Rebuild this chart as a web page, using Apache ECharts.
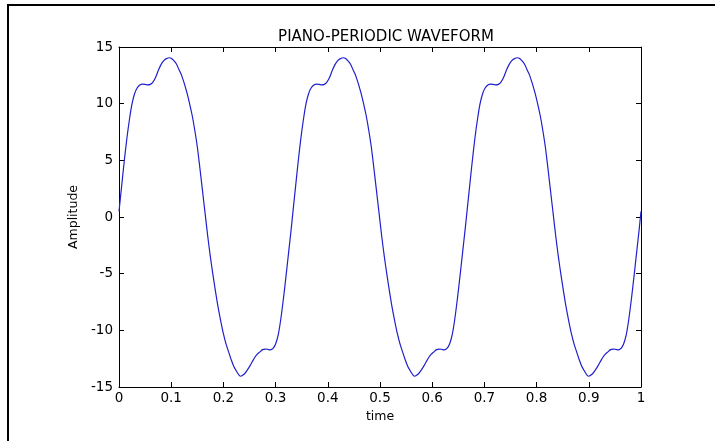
<!DOCTYPE html>
<html>
<head>
<meta charset="utf-8">
<script src="https://cdn.jsdelivr.net/npm/echarts@6/dist/echarts.min.js"></script>
<style>html,body{margin:0;padding:0;background:#fff;}#c{width:715px;height:441px;}</style>
</head>
<body>
<div id="c"></div>
<script>
const chartTitle = 'PIANO-PERIODIC WAVEFORM';
const xName = 'time';
const yName = 'Amplitude';
const xTickLabels = ['0','0.1','0.2','0.3','0.4','0.5','0.6','0.7','0.8','0.9','1'];
const yTickLabels = ['-15','-10','-5','0','5','10','15'];

const timeP1 = [0,0.005,0.01,0.015,0.02,0.025,0.03,0.035,0.04,0.045,0.05,0.055,0.06,0.065,0.07,0.075,0.08,0.085,0.09,0.097,0.1,0.105,0.11,0.115,0.12,0.13,0.14,0.145,0.15,0.155,0.16,0.165,0.17,0.175,0.18,0.185,0.19,0.195,0.2,0.205,0.21,0.215,0.22,0.225,0.23,0.233,0.24,0.245,0.25,0.255,0.26,0.265,0.27,0.275,0.28,0.285,0.29,0.295,0.3,0.305,0.31,0.315,0.32,0.325,0.33];
const ampP1 = [0.5,2.7,4.9,6.9,8.6,10.0,10.9,11.4,11.65,11.72,11.7,11.65,11.7,11.9,12.3,12.9,13.4,13.75,13.95,14.05,14.0,13.8,13.5,13.0,12.5,11.0,9.0,7.7,6.2,4.3,2.3,0.3,-1.7,-3.5,-5.1,-6.6,-8.0,-9.2,-10.3,-11.2,-11.9,-12.6,-13.2,-13.6,-13.95,-14.05,-13.85,-13.55,-13.2,-12.8,-12.4,-12.1,-11.9,-11.7,-11.65,-11.68,-11.72,-11.6,-11.2,-10.4,-9.0,-7.2,-5.2,-3.1,-1.0];

const timeP2 = [0.3333,0.3383,0.3433,0.3483,0.3533,0.3583,0.3633,0.3683,0.3733,0.3783,0.3833,0.3883,0.3933,0.3983,0.4033,0.4083,0.4133,0.4183,0.4233,0.4303,0.4333,0.4383,0.4433,0.4483,0.4533,0.4633,0.4733,0.4783,0.4833,0.4883,0.4933,0.4983,0.5033,0.5083,0.5133,0.5183,0.5233,0.5283,0.5333,0.5383,0.5433,0.5483,0.5533,0.5583,0.5633,0.5663,0.5733,0.5783,0.5833,0.5883,0.5933,0.5983,0.6033,0.6083,0.6133,0.6183,0.6233,0.6283,0.6333,0.6383,0.6433,0.6483,0.6533,0.6583,0.6633];
const ampP2 = [0.5,2.7,4.9,6.9,8.6,10.0,10.9,11.4,11.65,11.72,11.7,11.65,11.7,11.9,12.3,12.9,13.4,13.75,13.95,14.05,14.0,13.8,13.5,13.0,12.5,11.0,9.0,7.7,6.2,4.3,2.3,0.3,-1.7,-3.5,-5.1,-6.6,-8.0,-9.2,-10.3,-11.2,-11.9,-12.6,-13.2,-13.6,-13.95,-14.05,-13.85,-13.55,-13.2,-12.8,-12.4,-12.1,-11.9,-11.7,-11.65,-11.68,-11.72,-11.6,-11.2,-10.4,-9.0,-7.2,-5.2,-3.1,-1.0];

const timeP3 = [0.6667,0.6717,0.6767,0.6817,0.6867,0.6917,0.6967,0.7017,0.7067,0.7117,0.7167,0.7217,0.7267,0.7317,0.7367,0.7417,0.7467,0.7517,0.7567,0.7637,0.7667,0.7717,0.7767,0.7817,0.7867,0.7967,0.8067,0.8117,0.8167,0.8217,0.8267,0.8317,0.8367,0.8417,0.8467,0.8517,0.8567,0.8617,0.8667,0.8717,0.8767,0.8817,0.8867,0.8917,0.8967,0.8997,0.9067,0.9117,0.9167,0.9217,0.9267,0.9317,0.9367,0.9417,0.9467,0.9517,0.9567,0.9617,0.9667,0.9717,0.9767,0.9817,0.9867,0.9917,0.9967,1.0];
const ampP3 = [0.5,2.7,4.9,6.9,8.6,10.0,10.9,11.4,11.65,11.72,11.7,11.65,11.7,11.9,12.3,12.9,13.4,13.75,13.95,14.05,14.0,13.8,13.5,13.0,12.5,11.0,9.0,7.7,6.2,4.3,2.3,0.3,-1.7,-3.5,-5.1,-6.6,-8.0,-9.2,-10.3,-11.2,-11.9,-12.6,-13.2,-13.6,-13.95,-14.05,-13.85,-13.55,-13.2,-12.8,-12.4,-12.1,-11.9,-11.7,-11.65,-11.68,-11.72,-11.6,-11.2,-10.4,-9.0,-7.2,-5.2,-3.1,-1.0,0.5];

const time = timeP1.concat(timeP2, timeP3);
const amp = ampP1.concat(ampP2, ampP3);
const data = time.map((t, i) => [t, amp[i]]);

const FONT = '"DejaVu Sans", Verdana, sans-serif';
const chart = echarts.init(document.getElementById('c'), null, {renderer: 'canvas'});

const xLab = v => { const i = Math.round(v * 10); return xTickLabels[i] !== undefined ? xTickLabels[i] : ''; };
const yLab = v => { const i = Math.round((v + 15) / 5); return yTickLabels[i] !== undefined ? yTickLabels[i] : ''; };

const axisLine = {show: true, onZero: false, lineStyle: {color: '#000', width: 1}};
const tickIn = {show: true, inside: true, length: 5, lineStyle: {color: '#000', width: 1}};

chart.setOption({
  animation: false,
  backgroundColor: '#ffffff',
  title: {
    text: chartTitle, left: 381, top: 25, textAlign: 'center',
    textStyle: {fontFamily: FONT, fontSize: 15, fontWeight: 'normal', color: '#000'}
  },
  grid: {left: 119, right: 74, top: 47, bottom: 54, show: false},
  xAxis: [
    {type: 'value', min: 0, max: 1, interval: 0.1, position: 'bottom',
     axisLine: axisLine, axisTick: tickIn, splitLine: {show: false},
     axisLabel: {formatter: xLab, fontFamily: FONT, fontSize: 13.5, color: '#000', margin: 4},
     name: xName, nameLocation: 'middle', nameGap: 21,
     nameTextStyle: {fontFamily: FONT, fontSize: 12.5, color: '#000'}},
    {type: 'value', min: 0, max: 1, interval: 0.1, position: 'top',
     axisLine: axisLine, axisTick: tickIn, splitLine: {show: false}, axisLabel: {show: false}}
  ],
  yAxis: [
    {type: 'value', min: -15, max: 15, interval: 5, position: 'left',
     axisLine: axisLine, axisTick: tickIn, splitLine: {show: false},
     axisLabel: {formatter: yLab, fontFamily: FONT, fontSize: 13.5, color: '#000', margin: 6},
     name: yName, nameLocation: 'middle', nameGap: 39, nameRotate: 90,
     nameTextStyle: {fontFamily: FONT, fontSize: 12.5, color: '#000'}},
    {type: 'value', min: -15, max: 15, interval: 5, position: 'right',
     axisLine: axisLine, axisTick: tickIn, splitLine: {show: false}, axisLabel: {show: false}}
  ],
  graphic: [
    {type: 'rect', shape: {x: 8, y: 5, width: 740, height: 470}, silent: true,
     style: {fill: 'none', stroke: '#000', lineWidth: 2}}
  ],
  series: [{
    type: 'line', data: data, showSymbol: false, smooth: 0.3,
    lineStyle: {color: '#2020cc', width: 1.2}, xAxisIndex: 0, yAxisIndex: 0
  }]
});
</script>
</body>
</html>
